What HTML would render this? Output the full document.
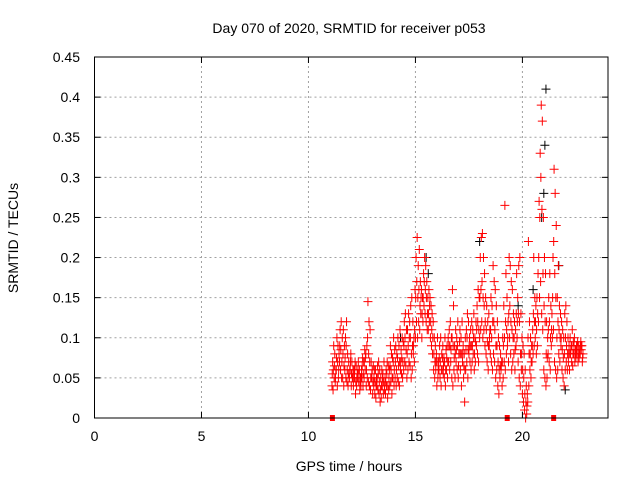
<!DOCTYPE html>
<html><head><meta charset="utf-8"><style>
body{margin:0;background:#fff;}
svg{display:block;font-family:"Liberation Sans",sans-serif;}
</style></head><body>
<svg id="chart" width="640" height="480" viewBox="0 0 640 480">
<rect width="640" height="480" fill="#fff"/>
<text x="349" y="33" font-size="14" text-anchor="middle">Day 070 of 2020, SRMTID for receiver p053</text>
<text transform="translate(18,238) rotate(-90)" font-size="14" text-anchor="middle">SRMTID / TECUs</text>
<text x="349" y="471" font-size="14" text-anchor="middle">GPS time / hours</text>
<g id="grid"></g><g id="marks"></g><g id="axes"></g>
</svg>
<script>
const xTicks=[0,5,10,15,20];
const yTicks=[0,0.05,0.1,0.15,0.2,0.25,0.3,0.35,0.4,0.45];
const yTickLabels=["0","0.05","0.1","0.15","0.2","0.25","0.3","0.35","0.4","0.45"];
const startHour=11.1, stepHour=0.05;
const srmtidLow=[.04,.035,.05,.045,.06,.04,.05,.07,.06,.05,
.05,.04,.06,.05,.045,.04,.05,.06,.04,.05,
.04,.05,.03,.04,.05,.045,.035,.04,.05,.04,
.05,.06,.04,.05,.045,.04,.035,.05,.03,.04,
.03,.025,.04,.035,.03,.02,.025,.04,.03,.035,
.03,.04,.025,.035,.04,.045,.03,.05,.04,.05,
.04,.05,.045,.04,.06,.055,.05,.06,.07,.065,
.05,.06,.07,.065,.05,.06,.08,.07,.1,.12,
.1,.12,.11,.13,.1,.12,.14,.13,.12,.11,
.11,.12,.1,.09,.08,.06,.05,.06,.04,.05,
.06,.05,.04,.06,.055,.05,.04,.06,.05,.07,
.06,.07,.05,.04,.06,.05,.07,.06,.05,.08,
.06,.04,.07,.05,.02,.06,.07,.05,.08,.07,
.06,.07,.08,.06,.07,.09,.08,.07,.1,.11,
.12,.1,.11,.09,.08,.07,.06,.09,.08,.07,
.06,.08,.07,.05,.06,.04,.03,.05,.06,.04,
.05,.07,.06,.08,.09,.07,.1,.08,.06,.07,
.08,.06,.09,.1,.07,.05,.04,.06,.03,.02,
.01,0,.005,.02,.04,.06,.05,.07,.08,.09,
.1,.08,.09,.12,.15,.17,.13,.11,.06,.05,
.04,.05,.08,.07,.06,.09,.1,.11,.07,.06,
.05,.06,.08,.07,.09,.06,.05,.04,.06,.07,
.06,.07,.06,.08,.07,.065,.08,.07,.075,.08,
.07,.075,.08,.085,.07];
const srmtidMid=[.055,.06,.065,.05,.075,.07,.06,.09,.085,.07,
.08,.065,.075,.09,.06,.055,.05,.07,.055,.05,
.05,.06,.045,.05,.06,.055,.045,.05,.065,.055,
.07,.075,.06,.1,.08,.07,.05,.055,.045,.05,
.045,.04,.05,.055,.045,.035,.04,.05,.045,.04,
.045,.055,.04,.05,.065,.06,.05,.07,.06,.07,
.06,.075,.065,.07,.07,.075,.07,.09,.1,.085,
.08,.09,.1,.1,.08,.09,.09,.11,.15,.17,
.15,.16,.14,.15,.13,.15,.17,.16,.15,.13,
.13,.14,.12,.11,.1,.08,.07,.07,.07,.06,
.075,.07,.06,.075,.065,.07,.06,.075,.07,.09,
.09,.085,.1,.09,.075,.08,.085,.09,.065,.095,
.08,.08,.08,.065,.06,.085,.1,.085,.09,.09,
.09,.09,.1,.08,.095,.11,.12,.11,.15,.16,
.17,.15,.14,.12,.11,.095,.09,.1,.11,.1,
.12,.12,.11,.09,.09,.07,.06,.065,.065,.07,
.09,.1,.12,.11,.1,.13,.14,.12,.11,.1,
.1,.085,.13,.12,.13,.12,.08,.08,.06,.05,
.03,.02,.015,.1,.08,.08,.07,.09,.13,.12,
.12,.11,.13,.2,.25,.3,.26,.18,.14,.12,
.08,.075,.11,.12,.1,.11,.15,.22,.18,.15,
.1,.12,.11,.1,.1,.085,.075,.08,.1,.09,
.08,.08,.08,.085,.09,.08,.09,.08,.085,.09,
.08,.08,.09,.09,.075];
const srmtidHigh=[.07,.09,.08,.06,.1,.09,.08,.11,.12,.1,
.11,.09,.1,.12,.08,.07,.06,.08,.07,.06,
.06,.07,.065,.055,.07,.06,.05,.06,.075,.07,
.085,.08,.09,.145,.12,.11,.07,.06,.065,.06,
.06,.05,.065,.07,.06,.05,.06,.055,.07,.05,
.06,.07,.065,.06,.09,.08,.075,.1,.085,.09,
.08,.1,.09,.11,.085,.1,.095,.12,.13,.11,
.11,.13,.12,.14,.15,.12,.1,.16,.2,.225,
.19,.21,.17,.16,.15,.18,.2,.19,.17,.15,
.16,.15,.14,.13,.12,.1,.09,.08,.1,.07,
.09,.1,.08,.09,.075,.1,.085,.09,.1,.11,
.12,.1,.16,.14,.09,.11,.1,.12,.08,.11,
.1,.12,.09,.08,.1,.11,.13,.12,.1,.11,
.12,.11,.13,.1,.12,.14,.16,.15,.2,.225,
.23,.2,.18,.15,.14,.12,.13,.11,.15,.14,
.19,.17,.16,.14,.12,.1,.09,.08,.07,.1,
.14,.265,.18,.15,.12,.2,.19,.17,.16,.13,
.12,.11,.18,.15,.19,.2,.13,.1,.09,.08,
.06,.04,.03,.22,.12,.1,.09,.11,.2,.15,
.14,.15,.18,.27,.33,.39,.37,.25,.2,.18,
.12,.1,.15,.18,.14,.13,.2,.31,.28,.24,
.15,.19,.14,.13,.12,.11,.1,.13,.14,.12,
.1,.09,.1,.09,.11,.095,.1,.085,.09,.095,
.09,.085,.095,.09,.08];
const blackHours=[21.1,21.0,15.5,18.0,20.9,14.3,19.8,20.5,21.7,22.0,15.6,21.05];
const blackVals=[.41,.28,.2,.22,.25,.1,.14,.16,.19,.035,.18,.34];
const zeroHours=[11.12,19.29,21.46];

const X0=94.5,X1=608,Y0=418,Y1=57,XMAX=24,YMAX=0.45;
const xs=h=>X0+h/XMAX*(X1-X0);
const ys=v=>Y0-v/YMAX*(Y0-Y1);
const NS="http://www.w3.org/2000/svg";
function mk(tag,attrs,parent){const e=document.createElementNS(NS,tag);for(const k in attrs)e.setAttribute(k,attrs[k]);parent.appendChild(e);return e;}
const grid=document.getElementById('grid'),marks=document.getElementById('marks'),axes=document.getElementById('axes');

xTicks.forEach((t,i)=>{
  const x=xs(t);
  if(t>0){const g=mk('line',{x1:x,y1:Y0,x2:x,y2:Y1,stroke:'#a0a0a0','stroke-dasharray':'2,3'},grid);
  
  }
  mk('line',{x1:x,y1:Y0,x2:x,y2:Y0-6,stroke:'#000'},axes);
  mk('line',{x1:x,y1:Y1,x2:x,y2:Y1+6,stroke:'#000'},axes);
  const l=mk('text',{x:x,y:Y0+23,'font-size':14,'text-anchor':'middle'},axes);
  l.textContent=t;
  
  
});
yTicks.forEach((t,i)=>{
  const y=ys(t);
  if(t>0&&t<YMAX){const g=mk('line',{x1:X0,y1:y,x2:X1,y2:y,stroke:'#a0a0a0','stroke-dasharray':'2,3'},grid);
  
  }
  mk('line',{x1:X0,y1:y,x2:X0+6,y2:y,stroke:'#000'},axes);
  mk('line',{x1:X1,y1:y,x2:X1-6,y2:y,stroke:'#000'},axes);
  const l=mk('text',{x:80,y:y+5,'font-size':14,'text-anchor':'end'},axes);
  l.textContent=yTickLabels[i];
  
  
});
const border=mk('rect',{x:X0,y:Y1,width:X1-X0,height:Y0-Y1,fill:'none',stroke:'#000'},axes);



function cross(h,v,color,name){
  const x=xs(h),y=ys(v);
  const p=mk('path',{d:`M${x-4.5},${y}H${x+4.5}M${x},${y-4.5}V${y+4.5}`,stroke:color,'stroke-width':1,fill:'none'},marks);
  
  
}
blackVals.forEach((v,i)=>cross(blackHours[i],v,'#000','black-point'));
srmtidLow.forEach((v,i)=>cross(startHour+i*stepHour,v,'#ff0000','srmtid-point'));
srmtidMid.forEach((v,i)=>cross(startHour+i*stepHour+0.012,v,'#ff0000','srmtid-point'));
srmtidHigh.forEach((v,i)=>cross(startHour+i*stepHour+0.03,v,'#ff0000','srmtid-point'));
zeroHours.forEach(h=>{
  const r=mk('rect',{x:xs(h)-2.5,y:Y0-3,width:5,height:6,fill:'#ff0000'},marks);
  
  
});
</script>
</body></html>
